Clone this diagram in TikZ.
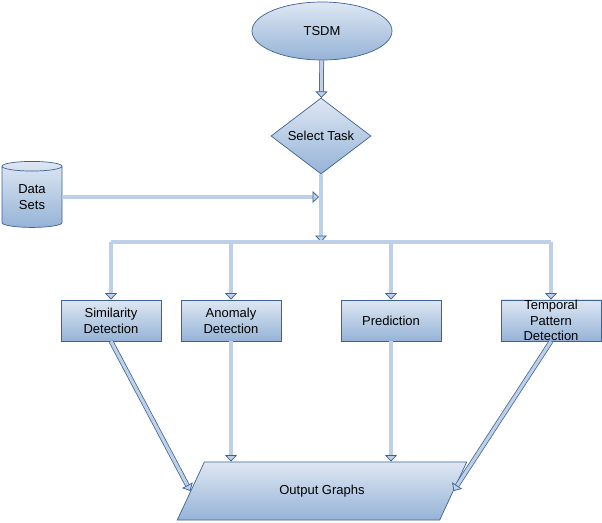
\documentclass[tikz,border=0pt]{standalone}
\usepackage{fontspec}
\setmainfont{Liberation Sans}
\usetikzlibrary{shapes.geometric,arrows.meta}
\definecolor{edge}{RGB}{62,98,148}
\definecolor{boxtop}{RGB}{222,231,243}
\definecolor{boxbot}{RGB}{149,179,215}
\definecolor{shaft}{RGB}{190,208,232}
\begin{document}
\begin{tikzpicture}[x=1pt,y=-1pt,
  part/.style={draw=edge,line width=0.7pt,top color=boxtop,bottom color=boxbot,
    font=\fontsize{13}{15.8}\selectfont,align=center,inner sep=0pt},
  task/.style={part,rectangle,minimum width=100pt,minimum height=41pt},
  bus/.style={draw=edge,line width=0.75pt,double=shaft,double distance=3.2pt},
  flow/.style={bus,-{Triangle[length=6.5pt,width=12pt,fill=shaft,line width=0.75pt]}}]
\useasboundingbox (0,0) rectangle (602,522);
\node[part,ellipse,minimum width=140pt,minimum height=58pt] (tsdm) at (322,31) {TSDM};
\node[part,diamond,minimum width=100pt,minimum height=48pt] (select) at (321,136) {Select Task};
\node[part,cylinder,shape border rotate=90,aspect=0.35,minimum width=60pt,minimum height=66pt] (data) at (32,197) {Data\\Sets};
\node[task] (sim) at (111,320.5) {Similarity\\Detection};
\node[task] (anom) at (231,320.5) {Anomaly\\Detection};
\node[task] (pred) at (391,320.5) {Prediction};
\node[task] (temp) at (551,320.5) {Temporal\\Pattern\\Detection};
\node[part,trapezium,trapezium left angle=65,trapezium right angle=115,
  inner xsep=75pt,inner ysep=23pt] (out) at (322,491) {Output Graphs};
\coordinate (join) at (321,242);
\draw[flow] (tsdm) -- (select);
\draw[flow,shorten >=2pt] (data.east) -- (data.east -| select.south);
\draw[flow] (select) -- (join);
\draw[flow] (sim.north |- join) -- (sim);
\draw[flow] (anom.north |- join) -- (anom);
\draw[flow] (pred.north |- join) -- (pred);
\draw[flow] (temp.north |- join) -- (temp);
\draw[bus] (sim.north |- join) -- (temp.north |- join);
\draw[flow] (sim.south) -- (out.west);
\draw[flow] (anom) -- (out.north -| anom);
\draw[flow] (pred) -- (out.north -| pred);
\draw[flow] (temp.south) -- (out.east);
\end{tikzpicture}
\end{document}
